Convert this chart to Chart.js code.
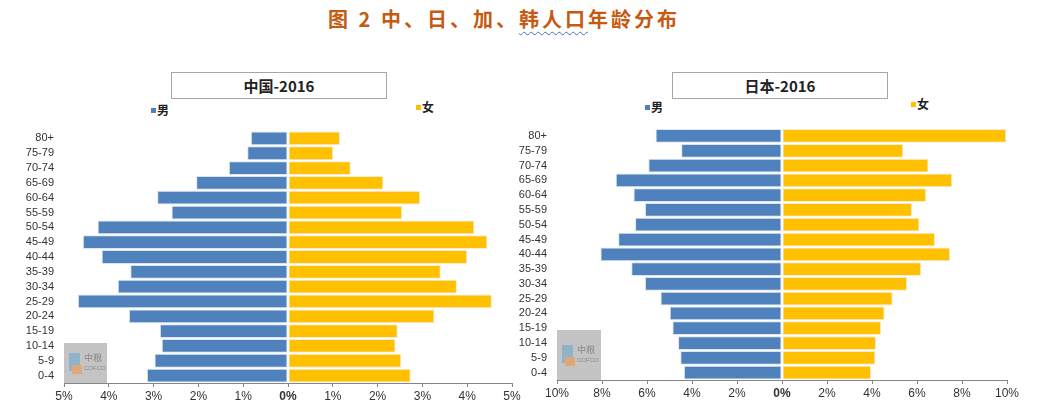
<!DOCTYPE html>
<html>
<head>
<meta charset="utf-8">
<title>中、日、加、韩人口年龄分布</title>
<script src="https://cdn.jsdelivr.net/npm/chart.js"></script>
<style>
  body { margin: 0; width: 1048px; height: 418px; background: #fff; position: relative; overflow: hidden; font-family: "Liberation Sans", sans-serif; }
  .main-title { position: absolute; left: 0; top: 4px; width: 1008px; text-align: center; font-family: "Noto Sans CJK SC", sans-serif; font-weight: 700; font-size: 20px; letter-spacing: 3px; color: #c55a11; }
  .main-title .wavy { text-decoration: underline wavy #4472c4; text-decoration-thickness: 1px; text-underline-offset: 4px; }
  .box { position: absolute; box-sizing: border-box; height: 27px; border: 1px solid #a6a6a6; text-align: center; line-height: 25px; font-family: "Noto Sans CJK SC", sans-serif; font-weight: 700; font-size: 15px; color: #222; }
  .leg { position: absolute; font-family: "Noto Sans CJK SC", sans-serif; font-weight: 700; font-size: 12px; color: #222; line-height: 14px; }
  .leg i { display: inline-block; width: 5px; height: 5px; margin-right: 1px; vertical-align: 2px; }
  .wrap { position: absolute; }
</style>
</head>
<body>
  <div class="main-title">图 2 中、日、加、<span class="wavy">韩人口</span>年龄分布</div>

  <div class="box" style="left:171px; top:72px; width:216px;">中国-2016</div>
  <div class="leg" style="left:151px; top:103px;"><i style="background:#4f81bd"></i>男</div>
  <div class="leg" style="left:416px; top:100px;"><i style="background:#ffc000"></i>女</div>

  <div class="box" style="left:672px; top:72px; width:216px;">日本-2016</div>
  <div class="leg" style="left:645px; top:100px;"><i style="background:#4f81bd"></i>男</div>
  <div class="leg" style="left:911px; top:97px;"><i style="background:#ffc000"></i>女</div>

  <div class="wrap" style="left:0; top:120px;"><canvas id="chinaChart" width="525" height="298"></canvas></div>
  <div class="wrap" style="left:508px; top:120px;"><canvas id="japanChart" width="540" height="298"></canvas></div>

<script>
  // age groups, top row first
  const ageGroups = ["80+", "75-79", "70-74", "65-69", "60-64", "55-59", "50-54", "45-49", "40-44",
                     "35-39", "30-34", "25-29", "20-24", "15-19", "10-14", "5-9", "0-4"];

  // share of population, %
  const chinaMale   = [0.83, 0.91, 1.32, 2.05, 2.92, 2.60, 4.25, 4.58, 4.16, 3.52, 3.80, 4.69, 3.55, 2.86, 2.82, 2.98, 3.15];
  const chinaFemale = [1.16, 1.01, 1.40, 2.13, 2.95, 2.55, 4.16, 4.45, 4.00, 3.41, 3.77, 4.55, 3.27, 2.45, 2.40, 2.53, 2.74];
  const japanMale   = [5.62, 4.48, 5.94, 7.39, 6.60, 6.09, 6.53, 7.28, 8.07, 6.70, 6.09, 5.40, 4.99, 4.87, 4.62, 4.52, 4.36];
  const japanFemale = [9.97, 5.39, 6.51, 7.57, 6.41, 5.78, 6.11, 6.80, 7.47, 6.19, 5.56, 4.92, 4.56, 4.41, 4.18, 4.15, 3.96];

  const chinaAxis = { max: 5, step: 1 };
  const japanAxis = { max: 10, step: 2 };

  // grey logo box in the lower left corner of each plot
  const watermark = {
    id: "watermark",
    beforeDatasetsDraw(chart, args, opts) {
      const { ctx, chartArea } = chart;
      const x = chartArea.left, y = chartArea.bottom - opts.h;
      ctx.save();
      ctx.fillStyle = "#c4c4c4";
      ctx.fillRect(x, y, opts.w, opts.h);
      ctx.fillStyle = "#8fb3c9";
      ctx.fillRect(x + 5, y + opts.h / 2 - 10, 11, 18);
      ctx.fillStyle = "#e0a878";
      ctx.fillRect(x + 8, y + opts.h / 2 + 2, 10, 9);
      ctx.fillStyle = "#8a8a8a";
      ctx.font = "9px 'Noto Sans CJK SC'";
      ctx.fillText("中粮", x + 20, y + opts.h / 2 - 2);
      ctx.font = "6px 'Liberation Sans'";
      ctx.fillText("COFCO", x + 20, y + opts.h / 2 + 7);
      ctx.restore();
    }
  };

  function makePyramid(id, male, female, axis, geo) {
    new Chart(document.getElementById(id), {
      type: "bar",
      data: {
        labels: ageGroups,
        datasets: [
          { label: "男", data: male.map(v => -v), backgroundColor: "#4f81bd", borderColor: "#dbe5f1", borderWidth: 1, borderSkipped: false },
          { label: "女", data: female, backgroundColor: "#ffc000", borderColor: "#f2ecd9", borderWidth: 1, borderSkipped: false }
        ]
      },
      options: {
        indexAxis: "y",
        responsive: false,
        animation: false,
        layout: { padding: { top: geo.top, right: geo.right, left: 0, bottom: 0 } },
        datasets: { bar: { barPercentage: 0.93, categoryPercentage: 1.0 } },
        scales: {
          x: {
            stacked: true,
            min: -axis.max,
            max: axis.max,
            afterFit: s => { s.height = geo.xh; },
            grid: { drawOnChartArea: false, drawTicks: true, tickLength: 4, color: "#868686" },
            border: { display: true, color: "#868686" },
            ticks: {
              stepSize: axis.step,
              padding: 2,
              color: "#333",
              maxRotation: 0,
              font: c => ({ family: "Liberation Sans", size: 12, weight: c.tick && c.tick.value === 0 ? "bold" : "normal" }),
              callback: v => Math.abs(v) + "%"
            }
          },
          y: {
            stacked: true,
            afterFit: s => { s.width = geo.yw; },
            grid: { display: false },
            border: { display: false },
            ticks: { autoSkip: false, padding: 2, color: "#333", font: { family: "Liberation Sans", size: 11 } }
          }
        },
        plugins: {
          legend: { display: false },
          tooltip: { enabled: false },
          watermark: { w: geo.ww, h: geo.wh }
        }
      },
      plugins: [watermark]
    });
  }

  makePyramid("chinaChart", chinaMale, chinaFemale, chinaAxis, { top: 11, right: 13, yw: 64, xh: 35, ww: 43, wh: 40 });
  makePyramid("japanChart", japanMale, japanFemale, japanAxis, { top: 8, right: 41, yw: 49, xh: 38, ww: 44, wh: 50 });
</script>
</body>
</html>
